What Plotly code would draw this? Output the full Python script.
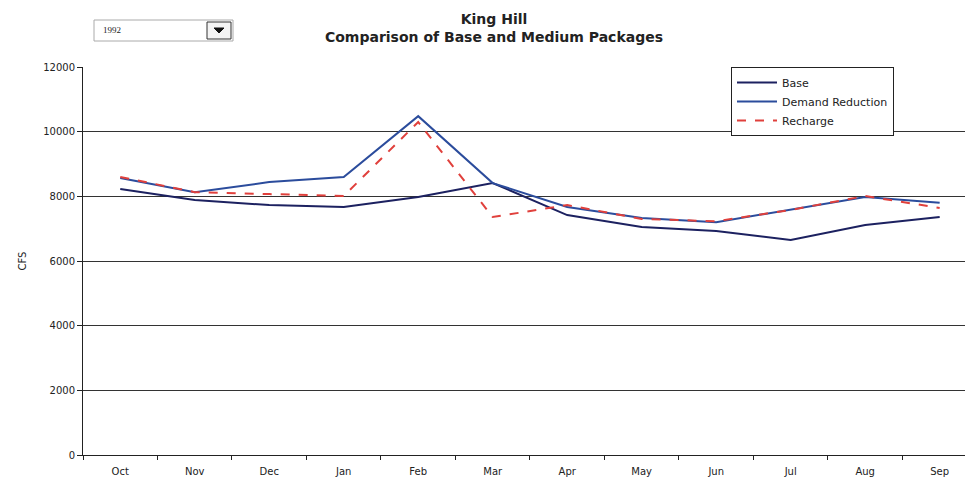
import plotly.graph_objects as go

months = ["Oct", "Nov", "Dec", "Jan", "Feb", "Mar", "Apr", "May", "Jun", "Jul", "Aug", "Sep"]
base = [8230, 7890, 7730, 7670, 7980, 8410, 7420, 7050, 6930, 6650, 7110, 7360]
demand_reduction = [8570, 8130, 8440, 8600, 10480, 8410, 7670, 7330, 7200, 7580, 7980, 7800]
recharge = [8600, 8130, 8070, 8010, 10300, 7360, 7730, 7300, 7230, 7580, 8010, 7640]
y_ticks = [0, 2000, 4000, 6000, 8000, 10000, 12000]

FONT = "DejaVu Sans, Arial, sans-serif"

fig = go.Figure()
fig.add_trace(go.Scatter(x=months, y=base, name="Base", mode="lines",
                         line=dict(color="#1c2160", width=2)))
fig.add_trace(go.Scatter(x=months, y=demand_reduction, name="Demand Reduction", mode="lines",
                         line=dict(color="#2b4c9c", width=2)))
fig.add_trace(go.Scatter(x=months, y=recharge, name="Recharge", mode="lines",
                         line=dict(color="#e0403c", width=2, dash="dash")))

W, H = 965, 478
L, T, B, R = 83, 67, 23, 0

def px(x):
    return (x - L) / (W - L - R)

def py(y):
    return 1 - (y - T) / (H - T - B)

fig.update_layout(
    width=W, height=H,
    margin=dict(l=L, r=R, t=T, b=B, autoexpand=False),
    paper_bgcolor="white", plot_bgcolor="white",
    font=dict(family=FONT, size=10, color="#222"),
    title=dict(text="<b>King Hill<br>Comparison of Base and Medium Packages</b>",
               x=494 / W, xanchor="center", y=1 - 24 / H, yanchor="middle",
               font=dict(size=14, color="#222", family=FONT)),
    showlegend=True,
    legend=dict(x=px(731), y=py(67), xanchor="left", yanchor="top",
                bgcolor="white", bordercolor="#222", borderwidth=1,
                font=dict(size=11, color="#222", family=FONT), tracegroupgap=0,
                itemwidth=40),
    xaxis=dict(type="category", range=[-0.5, 11.34], showgrid=False, automargin=False,
               showline=True, linecolor="#222", linewidth=1,
               ticks="outside", tickson="boundaries", ticklen=4, tickcolor="#222",
               ticklabelstandoff=7,
               tickfont=dict(size=10, color="#222", family=FONT)),
    yaxis=dict(range=[0, 12000], tickvals=y_ticks, tickformat="d", showgrid=True,
               gridcolor="#333", automargin=False,
               gridwidth=1, showline=True, linecolor="#222", linewidth=1,
               ticks="outside", ticklen=5, tickcolor="#222", zeroline=False,
               title=dict(text="CFS", font=dict(size=10, color="#222", family=FONT), standoff=14),
               tickfont=dict(size=10, color="#222", family=FONT)),
)

# dropdown box (drawn)
fig.add_shape(type="rect", xref="paper", yref="paper",
              x0=px(94), x1=px(233), y0=py(41), y1=py(20),
              line=dict(color="#aaa", width=1), fillcolor="white")
fig.add_shape(type="rect", xref="paper", yref="paper",
              x0=px(207), x1=px(231), y0=py(39), y1=py(22),
              line=dict(color="#333", width=1), fillcolor="#f4f4f4")
fig.add_shape(type="path", xref="paper", yref="paper",
              path=f"M {px(214)} {py(28)} L {px(224)} {py(28)} L {px(219)} {py(33)} Z",
              line=dict(color="#111", width=1), fillcolor="#111")
fig.add_annotation(text="1992", xref="paper", yref="paper",
                   x=px(101), y=py(30.5), xanchor="left", yanchor="middle",
                   showarrow=False, font=dict(size=9, color="#222",
                                               family="Times New Roman, Liberation Serif, serif"))

fig.write_html("out.html", config={"displayModeBar": False},
               post_script="document.body.style.margin='0';document.body.style.padding='0';")
